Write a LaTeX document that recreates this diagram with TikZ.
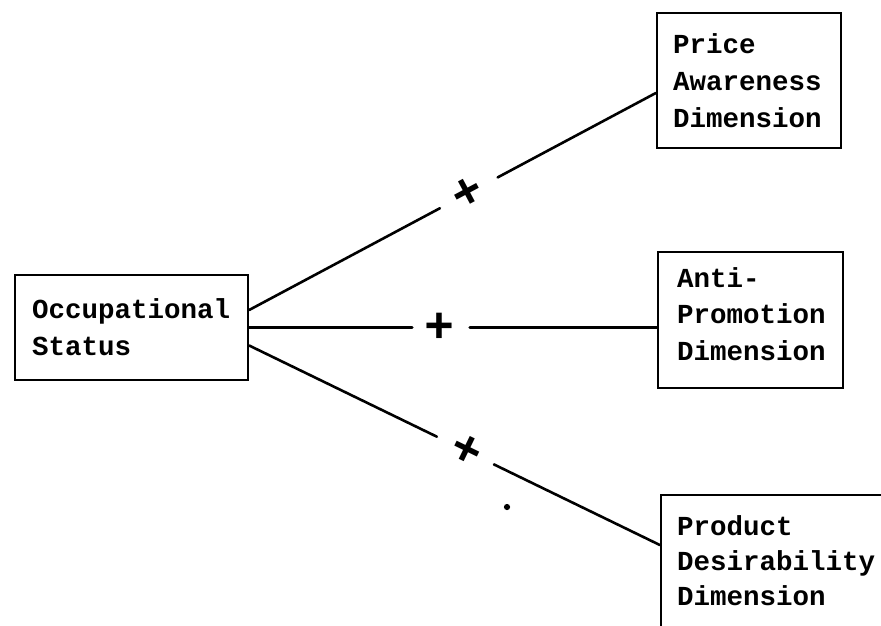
\documentclass[tikz,border=0pt]{standalone}
\usepackage{fontspec}
\setmonofont{Liberation Mono}
\begin{document}
\begin{tikzpicture}[x=1pt,y=-1pt,
  box/.style={draw, line width=2.3pt, rectangle, inner sep=0pt},
  lbl/.style={font=\ttfamily\bfseries\fontsize{27.5}{37}\selectfont, anchor=base west, inner sep=0pt},
  conn/.style={line width=2.6pt, line cap=round},
  sign/.style={font=\ttfamily\bfseries\fontsize{50}{50}\selectfont, inner sep=0pt}]
\useasboundingbox (0,0) rectangle (881,625);
% boxes
\node[box, minimum width=233pt, minimum height=105pt] (occ) at (131.5,327.5) {};
\node[box, minimum width=184pt, minimum height=135pt] (price) at (749,80.5) {};
\node[box, minimum width=185pt, minimum height=136pt] (anti) at (750.5,320) {};
\node[box, minimum width=244pt, minimum height=155pt] (prod) at (783,572.5) {};
% labels
\node[lbl] (occ1) at (32,318) {Occupational};
\node[lbl] (occ2) at (32,355) {Status};
\node[lbl] (pr1) at (673,53) {Price};
\node[lbl] (pr2) at (673,90) {Awareness};
\node[lbl] (pr3) at (673,127) {Dimension};
\node[lbl] (an1) at (677,287) {Anti-};
\node[lbl] (an2) at (677,323) {Promotion};
\node[lbl] (an3) at (677,360) {Dimension};
\node[lbl] (pd1) at (677,535) {Product};
\node[lbl] (pd2) at (677,570) {Desirability};
\node[lbl] (pd3) at (677,605) {Dimension};
% connector end points
\coordinate (u1) at ([yshift=17.5pt]occ.east);
\coordinate (u2) at ([yshift=-12.5pt]price.west);
\coordinate (m1) at (occ.east);
\coordinate (m2) at (occ.east -| anti.west);
\coordinate (l1) at ([yshift=-18pt]occ.east);
\coordinate (l2) at ([yshift=27.5pt]prod.west);
% upper
\path (u1) -- (u2) coordinate[pos=0.469] (ua) coordinate[pos=0.611] (ub)
  node[sign, pos=0.538, sloped] (usign) {+};
\draw[conn] (u1) -- (ua);
\draw[conn] (ub) -- (u2);
% middle
\path (m1) -- (m2) coordinate[pos=0.40] (ma) coordinate[pos=0.541] (mb)
  node[sign, pos=0.468] (msign) {+};
\draw[conn] (m1) -- (ma);
\draw[conn] (mb) -- (m2);
% lower
\path (l1) -- (l2) coordinate[pos=0.457] (la) coordinate[pos=0.596] (lb)
  node[sign, pos=0.528, sloped] (lsign) {+};
\draw[conn] (l1) -- (la);
\draw[conn] (lb) -- (l2);
% stray dot
\node[circle, fill, inner sep=2.2pt] (dot) at (507,507) {};
\end{tikzpicture}
\end{document}
